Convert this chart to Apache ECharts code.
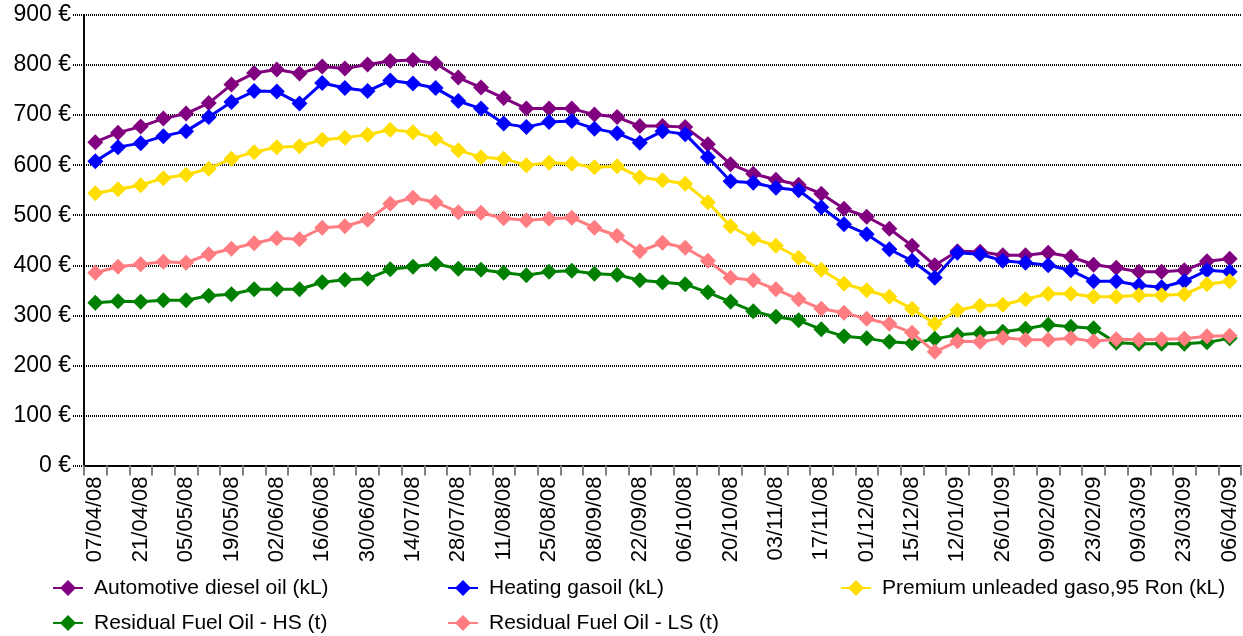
<!DOCTYPE html>
<html>
<head>
<meta charset="utf-8">
<script src="https://cdn.jsdelivr.net/npm/echarts@6/dist/echarts.min.js"></script>
<style>
html,body{margin:0;padding:0;background:#fff;}
#chart{width:1243px;height:636px;}
</style>
</head>
<body>
<div id="chart"></div>
<script>
var categories = ["07/04/08","14/04/08","21/04/08","28/04/08","05/05/08","12/05/08","19/05/08","26/05/08","02/06/08","09/06/08","16/06/08","23/06/08","30/06/08","07/07/08","14/07/08","21/07/08","28/07/08","04/08/08","11/08/08","18/08/08","25/08/08","01/09/08","08/09/08","15/09/08","22/09/08","29/09/08","06/10/08","13/10/08","20/10/08","27/10/08","03/11/08","10/11/08","17/11/08","24/11/08","01/12/08","08/12/08","15/12/08","22/12/08","12/01/09","19/01/09","26/01/09","02/02/09","09/02/09","16/02/09","23/02/09","02/03/09","09/03/09","16/03/09","23/03/09","30/03/09","06/04/09"];

var diesel = [646,665,677,693,703,724,761,784,791,783,797,793,801,808,810,803,775,755,734,713,713,713,701,696,678,678,676,642,602,583,571,561,543,513,497,473,439,400,428,427,420,420,425,417,401,395,387,387,390,408,413];
var heating = [608,636,644,658,668,696,726,748,747,723,764,754,748,769,763,754,728,713,683,676,686,688,673,664,645,668,662,616,568,565,555,550,516,482,462,432,409,375,425,422,409,405,400,390,368,368,360,356,368,390,387];
var premium = [544,552,560,574,581,593,613,626,636,638,651,655,661,671,666,653,630,616,613,600,605,603,596,598,576,570,563,526,478,453,439,415,391,363,350,337,313,283,310,319,321,332,343,343,337,337,340,340,342,362,368];
var fuelHS = [325,328,327,330,330,339,342,352,352,352,366,371,373,392,397,403,393,391,385,380,387,389,383,381,370,366,362,346,327,308,297,290,272,258,254,247,244,253,261,264,267,273,281,277,274,245,243,243,243,246,254];
var fuelLS = [385,397,402,407,405,422,433,444,454,452,475,478,491,523,535,526,506,505,494,490,493,495,475,459,428,445,435,409,375,370,352,332,313,305,293,283,265,227,248,247,255,251,251,254,248,252,251,252,253,258,259];

var yTicks = {min: 0, max: 900, step: 100};
var names = ["Automotive diesel oil (kL)","Heating gasoil (kL)","Premium unleaded gaso,95 Ron (kL)","Residual Fuel Oil - HS (t)","Residual Fuel Oil - LS (t)"];
var colors = ["#800080","#0000FF","#FFDE00","#008000","#FF7C80"];
var values = [diesel, heating, premium, fuelHS, fuelLS];

var FONT = "'Liberation Sans', Arial, sans-serif";
var chart = echarts.init(document.getElementById('chart'), null, {renderer: 'canvas'});

var series = values.map(function (d, i) {
  return {
    name: names[i],
    type: 'line',
    data: d,
    symbol: 'diamond',
    symbolSize: 16,
    showAllSymbol: true,
    lineStyle: {color: colors[i], width: 3},
    itemStyle: {color: colors[i]},
    z: 2 + i
  };
});

function legendAt(left, top, name) {
  return {
    orient: 'horizontal',
    left: left,
    top: top,
    padding: 0,
    itemWidth: 30,
    itemHeight: 20,
    data: [name],
    textStyle: {fontFamily: FONT, fontSize: 21, color: '#000', lineHeight: 22, padding: [0, 0, 0, 6]}
  };
}

chart.setOption({
  animation: false,
  backgroundColor: '#fff',
  color: colors,
  grid: {left: 84, right: 2, top: 15, height: 450.5, containLabel: false},
  legend: [
    legendAt(52, 577, names[0]),
    legendAt(52, 612, names[3]),
    legendAt(447, 577, names[1]),
    legendAt(447, 612, names[4]),
    legendAt(840, 577, names[2])
  ],
  xAxis: {
    type: 'category',
    data: categories,
    boundaryGap: true,
    axisLine: {show: true, lineStyle: {color: '#000', width: 2, type: [1, 1]}},
    axisTick: {show: true, interval: 0, length: 10, lineStyle: {color: '#808080', width: 2}},
    axisLabel: {interval: 1, rotate: 90, margin: 11, fontFamily: FONT, fontSize: 22, color: '#000'},
    splitLine: {show: false}
  },
  yAxis: {
    type: 'value',
    min: yTicks.min,
    max: yTicks.max,
    interval: yTicks.step,
    axisLine: {show: true, lineStyle: {color: '#000', width: 2, type: [1, 1]}},
    axisTick: {show: true, length: 12, lineStyle: {color: '#000', width: 2, type: [1, 1]}},
    axisLabel: {margin: 13, fontFamily: FONT, fontSize: 23, color: '#000', formatter: '{value} €'},
    splitLine: {show: true, lineStyle: {color: '#000', width: 2, type: [1, 1]}}
  },
  series: series
});
</script>
</body>
</html>
